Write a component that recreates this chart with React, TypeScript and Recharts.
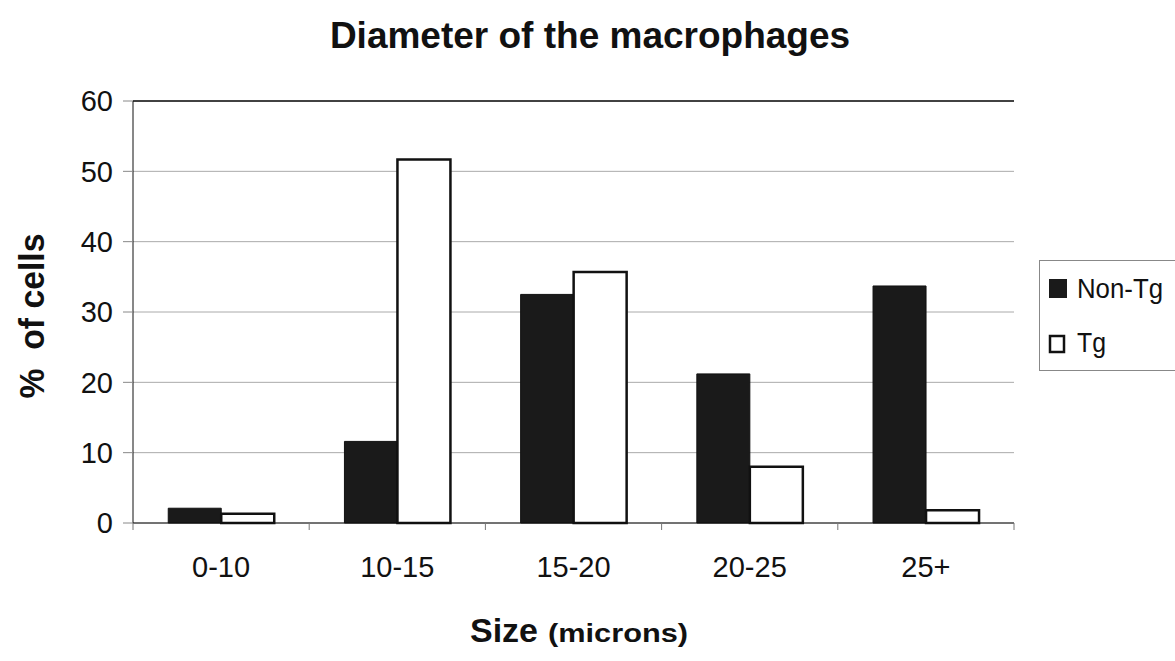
import React from 'react';
import {
  BarChart,
  Bar,
  XAxis,
  YAxis,
  CartesianGrid,
  ReferenceLine,
} from 'recharts';

const sizes = ['0-10', '10-15', '15-20', '20-25', '25+'];
const nonTg = [2.1, 11.6, 32.5, 21.2, 33.7];
const tg = [1.3, 51.7, 35.7, 8.0, 1.8];
const yTicks = [0, 10, 20, 30, 40, 50, 60];

const data = sizes.map((s, i) => ({ size: s, nonTg: nonTg[i], tg: tg[i] }));

const font = '"Liberation Sans", Arial, sans-serif';

// category label plus the small boundary ticks Excel draws between groups
const SizeTick = (props: any) => {
  const { x, y, payload, index, width, visibleTicksCount } = props;
  const half = payload.offset || width / (visibleTicksCount * 2);
  const last = index === visibleTicksCount - 1;
  return (
    <g>
      <line x1={x - half} x2={x - half} y1={y} y2={y + 7} stroke="#777" />
      {last && <line x1={x + half} x2={x + half} y1={y} y2={y + 7} stroke="#777" />}
      <text x={x} y={y + 54} textAnchor="middle" fontSize={29} fontFamily={font} fill="#111">
        {payload.value}
      </text>
    </g>
  );
};

const Overlay = () => (
  <svg
    width={1175}
    height={661}
    style={{ position: 'absolute', left: 0, top: 0, pointerEvents: 'none' }}
    fontFamily={font}
    fill="#111"
  >
    <text x={590} y={48} textAnchor="middle" fontSize={37} fontWeight="bold">
      Diameter of the macrophages
    </text>
    <text
      x={0}
      y={0}
      transform="translate(44,316) rotate(-90)"
      textAnchor="middle"
      fontSize={35}
      fontWeight="bold"
      textLength={165}
      lengthAdjust="spacingAndGlyphs"
      style={{ whiteSpace: 'pre' }}
    >
      {'%  of cells'}
    </text>
    <text x={470} y={642} fontSize={34} fontWeight="bold">
      Size
    </text>
    <text x={548} y={642} fontSize={25} fontWeight="bold" textLength={140} lengthAdjust="spacingAndGlyphs">
      (microns)
    </text>
    <rect x={1039.5} y={260.5} width={150} height={110} fill="#fff" stroke="#888" />
    <rect x={1049} y={279} width={18} height={19} fill="#1a1a1a" />
    <text x={1077} y={298} fontSize={28} textLength={86} lengthAdjust="spacingAndGlyphs">
      Non-Tg
    </text>
    <rect x={1050} y={336} width={14} height={16} fill="#fff" stroke="#111" strokeWidth={2.5} />
    <text x={1077} y={352} fontSize={28} textLength={29} lengthAdjust="spacingAndGlyphs">
      Tg
    </text>
  </svg>
);

const App: React.FC = () => {
  return (
    <div style={{ position: 'absolute', left: 0, top: 0, width: 1175, height: 661, background: '#fff', overflow: 'hidden' }}>
      <BarChart
        width={1175}
        height={661}
        data={data}
        margin={{ top: 101, right: 161, left: 73, bottom: 78 }}
        barCategoryGap="20%"
        barGap={0}
      >
        <CartesianGrid vertical={false} stroke="#aaa" />
        <XAxis
          dataKey="size"
          height={60}
          stroke="#111"
          tickLine={false}
          tickSize={0}
          tickMargin={0}
          interval={0}
          tick={<SizeTick />}
        />
        <YAxis
          width={60}
          domain={[0, 60]}
          ticks={yTicks}
          stroke="#111"
          tickSize={10}
          tickLine={{ stroke: '#888' }}
          tick={{ fill: '#111', fontSize: 29, fontFamily: font }}
          tickMargin={10}
        />
        <YAxis
          yAxisId="r"
          orientation="right"
          width={0}
          domain={[0, 60]}
          ticks={yTicks}
          tick={false}
          tickLine={false}
          stroke="#888"
        />
        <ReferenceLine y={60} stroke="#111" strokeWidth={1.5} />
        <Bar dataKey="nonTg" name="Non-Tg" fill="#1a1a1a" stroke="#111" strokeWidth={1} isAnimationActive={false} />
        <Bar dataKey="tg" name="Tg" fill="#fff" stroke="#111" strokeWidth={2.5} isAnimationActive={false} />
      </BarChart>
      <Overlay />
    </div>
  );
};

export default App;
